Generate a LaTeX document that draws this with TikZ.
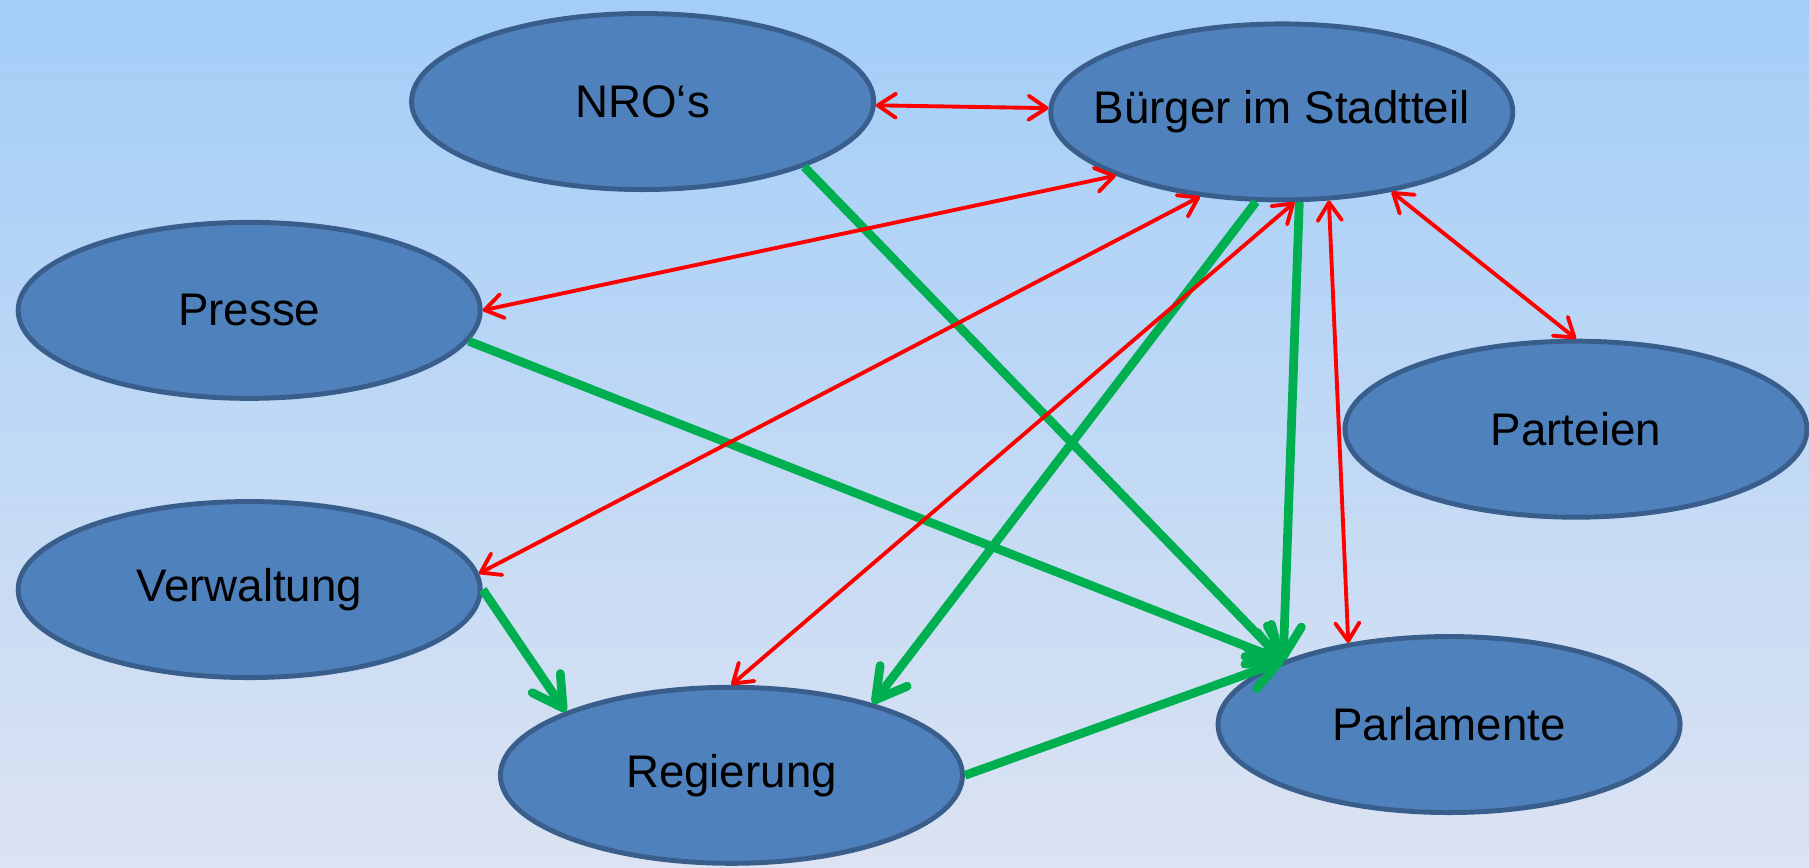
\documentclass[tikz,border=0pt]{standalone}
\usepackage{fontspec}
\setmainfont{Liberation Sans}
\usetikzlibrary{positioning}
\usetikzlibrary{arrows.meta}
\usetikzlibrary{shapes}
\definecolor{skytop}{HTML}{A3CEF8}
\definecolor{skybottom}{HTML}{DCE3F2}
\definecolor{ovalfill}{HTML}{4F81BD}
\definecolor{ovaldraw}{HTML}{3A5E8C}
\definecolor{linkred}{HTML}{FF0000}
\definecolor{linkgreen}{HTML}{00B050}
\tikzset{
	actor/.style ={ellipse, draw=ovaldraw, fill=ovalfill, line width=1.4pt, minimum width=4.62cm, minimum height=1.76cm, inner sep=0pt, font=\fontsize{13}{15}\selectfont},
	talk/.style={{Straight Barb[length=1.8mm,width=2.4mm,round]}-{Straight Barb[length=1.8mm,width=2.4mm,round]}, draw=linkred, line width=1.1pt},
	push/.style={-{Straight Barb[length=3mm,width=3.4mm,round]}, draw=linkgreen, line width=2.5pt}
}

\begin{document}
\begin{tikzpicture}[x=0.011537cm, y=-0.011537cm]

					\shade[top color=skytop, bottom color=skybottom] (0,0) rectangle (1568,752);
					\useasboundingbox (0,0) rectangle (1568,752);

					\node (nro) [actor] at (557,88) {NRO‘s};
					\node (buerger) [actor, inner xsep=-2.5mm] at (1111,97) {Bürger im Stadtteil};
					\node (presse) [actor] at (216,269) {Presse};
					\node (parteien) [actor] at (1366,372) {Parteien};
					\node (verwaltung) [actor] at (216,511) {Verwaltung};
					\node (regierung) [actor] at (634,672) {Regierung};
					\node (parlamente) [actor] at (1256,628) {Parlamente};

					\draw[push] (nro.338) -- (parlamente.159);
					\draw[push] (presse.352) -- (parlamente.159);
					\draw[push] (buerger.254) -- (regierung.27);
					\draw[push] (buerger.281) -- (parlamente.159);
					\draw[push] (verwaltung.east) -- (regierung.159);
					\draw[push] (regierung.east) -- (parlamente.159);

					\draw[talk] (nro) -- (buerger);
					\draw[talk] (presse.east) -- (buerger.201);
					\draw[talk] (verwaltung.4) -- (buerger.226);
					\draw[talk] (regierung.north) -- (buerger.278);
					\draw[talk] (parlamente.141) -- (buerger.298);
					\draw[talk] (parteien.north) -- (buerger.324);
				\end{tikzpicture}
\end{document}
